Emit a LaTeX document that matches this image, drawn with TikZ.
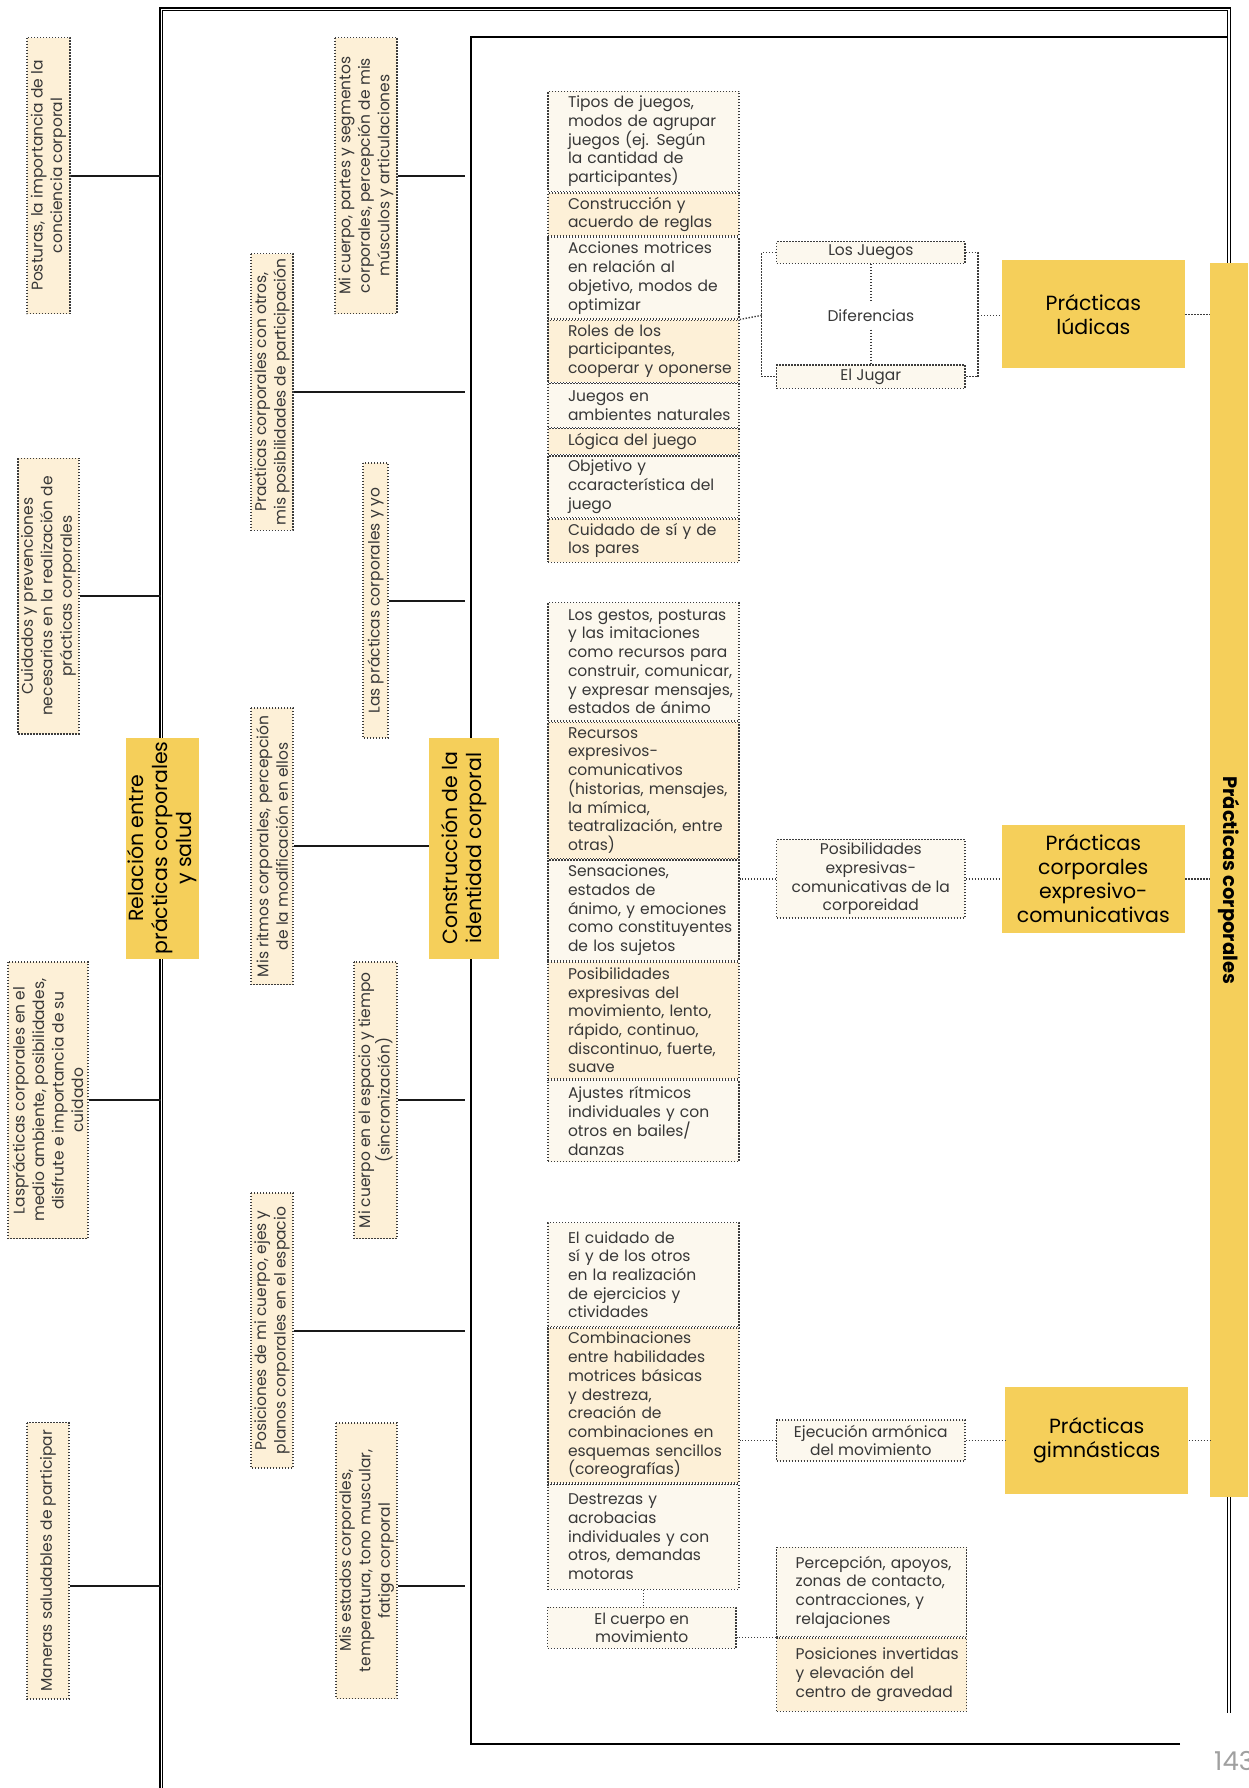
\documentclass[tikz,border=0pt]{standalone}
\usepackage{fontspec}
\usetikzlibrary{positioning}
\newfontfamily\gothic{Poppins}
\definecolor{baseYellow}{RGB}{245, 207, 90}
\definecolor{cellLight}{RGB}{252, 248, 238}
\definecolor{cellDark}{RGB}{253, 240, 215}
\definecolor{dotGray}{RGB}{60, 60, 60}
\definecolor{inkGray}{RGB}{55, 55, 55}
\definecolor{lineBlack}{RGB}{25, 25, 25}
\definecolor{pageGray}{RGB}{160, 160, 160}
\newcommand{\fntCell}{\gothic\fontsize{15.5}{18.7}\selectfont}
\newcommand{\fntSide}{\gothic\fontsize{15.5}{19.5}\selectfont}
\newcommand{\fntHead}{\gothic\fontsize{20.5}{24}\selectfont}
\newcommand{\fntBar}{\gothic\bfseries\fontsize{19.5}{24}\selectfont}
\tikzset{
    % Base Cell Style
    cellbox/.style={
        rectangle,
        draw=dotGray,
        line width=1.4pt,
        dash pattern=on 1.4pt off 1.6pt,
        inner sep=0pt,
        text=inkGray,
        font=\fntCell
    },
    % Stacked list cells (text flush left)
    listCell/.style={cellbox, minimum width=191pt, text width=191pt, align=left,
        execute at begin node={\leftskip=20pt\relax}},
    lightCell/.style={listCell, fill=cellLight},
    darkCell/.style={listCell, fill=cellDark},
    % Centred link cells
    hubCell/.style={cellbox, fill=cellLight, minimum width=188.3pt, align=center},
    % Rotated side notes
    sideNote/.style={cellbox, fill=cellDark, rotate=90, align=center, font=\fntSide},
    % Yellow headings
    topicBox/.style={rectangle, fill=baseYellow, inner sep=0pt, align=center, text=black, font=\fntHead},
    % Connector & Frame Styles
    branchLine/.style={draw=lineBlack, line width=2pt},
    dotLink/.style={draw=dotGray, line width=1.4pt, dash pattern=on 1.4pt off 1.6pt},
    frameOuter/.style={draw=black, line width=1.2pt, double=white, double distance=1.6pt},
    frameInner/.style={draw=black, line width=2pt}
}
\begin{document}
\begin{tikzpicture}[x=1pt, y=-1pt, node distance=0pt]
    \useasboundingbox (0,0) rectangle (1248,1788);

    % --- FRAMES ---
    \draw [frameOuter] (1180,1789.5) -- (161.3,1789.5) -- (161.3,9.3) -- (1229,9.3) -- (1229,1713);
    \draw [frameInner] (1180,1744.3) -- (471,1744.3) -- (471,37.3) -- (1227,37.3);
    \coordinate (frameL) at (161.3,0);
    \coordinate (innerGap) at (465,0);

    % --- LEFT COLUMN (Salud) ---
    \node (postura) [sideNote, minimum width=276pt, minimum height=43pt] at (48.5,175.5)
        {Posturas, la importancia de la\\conciencia corporal};
    \node (cuidados) [sideNote, minimum width=275.6pt, minimum height=61pt] at (48.5,596)
        {Cuidados y prevenciones\\necesarias en la realización de\\prácticas corporales};
    \node (medio) [sideNote, minimum width=276.6pt, minimum height=80pt] at (48,1100.3)
        {Lasprácticas corporales en el\\medio ambiente, posibilidades,\\disfrute e importancia de su\\cuidado};
    \node (maneras) [sideNote, minimum width=276.3pt, minimum height=42pt] at (48,1560.8)
        {Maneras saludables de participar};
    \node (relacion) [topicBox, rotate=90, minimum width=221pt, minimum height=73pt] at (162.5,848)
        {Relación entre\\prácticas corporales\\y salud};

    % --- MIDDLE COLUMNS (Identidad) ---
    \node (conotros) [sideNote, minimum width=276.5pt, minimum height=42pt] at (272,392)
        {Practicas corporales con otros,\\mis posibilidades de participación};
    \node (ritmos) [sideNote, minimum width=276.6pt, minimum height=42pt] at (272,846.3)
        {Mis ritmos corporales, percepción\\de la modificación en ellos};
    \node (posiciones) [sideNote, minimum width=275pt, minimum height=42pt] at (272,1330.5)
        {Posiciones de mi cuerpo, ejes y\\planos corporales en el espacio};
    \node (mipartes) [sideNote, minimum width=276pt, minimum height=62pt] at (366,175.5)
        {Mi cuerpo, partes y segmentos\\corporales, percepción de mis\\músculos y articulaciones};
    \node (yyo) [sideNote, minimum width=275pt, minimum height=25pt] at (375.5,600.5)
        {Las prácticas corporales y yo};
    \node (espacio) [sideNote, minimum width=276.6pt, minimum height=43pt] at (375.5,1100.3)
        {Mi cuerpo en el espacio y tiempo\\(sincronización)};
    \node (estados) [sideNote, minimum width=275.5pt, minimum height=61pt] at (366.5,1560.8)
        {Mis estados corporales,\\temperatura, tono muscular,\\fatiga corporal};
    \node (construccion) [topicBox, rotate=90, minimum width=221pt, minimum height=70pt] at (464,848)
        {Construcción de la\\identidad corporal};

    % --- STACK 1 (Juegos) ---
    \node (j1) [lightCell, anchor=north west, minimum height=100pt] at (547.3,90.7)
        {Tipos de juegos,\\modos de agrupar\\juegos (ej. Según\\la cantidad de\\participantes)};
    \node (j2) [darkCell, below=of j1, minimum height=43.3pt] {Construcción y\\acuerdo de reglas};
    \node (j3) [lightCell, below=of j2, minimum height=81.3pt] {Acciones motrices\\en relación al\\objetivo, modos de\\optimizar};
    \node (j4) [darkCell, below=of j3, minimum height=62pt] {Roles de los\\participantes,\\cooperar y oponerse};
    \node (j5) [lightCell, below=of j4, minimum height=43.7pt] {Juegos en\\ambientes naturales};
    \node (j6) [darkCell, below=of j5, minimum height=25.7pt] {Lógica del juego};
    \node (j7) [lightCell, below=of j6, minimum height=61.6pt] {Objetivo y\\ccaracterística del\\juego};
    \node (j8) [darkCell, below=of j7, minimum height=43.4pt] {Cuidado de sí y de\\los pares};

    \node (losjuegos) [hubCell, minimum height=21.6pt] at (870.8,252.5) {Los Juegos};
    \node (eljugar) [hubCell, minimum height=23.3pt] at (870.8,376.7) {El Jugar};
    \node (diferencias) [font=\fntCell, text=inkGray, inner sep=0pt, minimum height=27pt] at (870.8,316) {Diferencias};
    \node (ludicas) [topicBox, minimum width=183.3pt, minimum height=108.3pt] at (1093.3,314.2)
        {Prácticas\\lúdicas};

    % --- STACK 2 (Expresivo) ---
    \node (e1) [lightCell, anchor=north west, minimum height=118.4pt] at (547.3,601.8)
        {Los gestos, posturas\\y las imitaciones\\como recursos para\\construir, comunicar,\\y expresar mensajes,\\estados de ánimo};
    \node (e2) [darkCell, below=of e1, minimum height=136.2pt]
        {Recursos\\expresivos-\\comunicativos\\(historias, mensajes,\\la mímica,\\teatralización, entre\\otras)};
    \node (e3) [lightCell, below=of e2, minimum height=100.6pt]
        {Sensaciones,\\estados de\\ánimo, y emociones\\como constituyentes\\de los sujetos};
    \node (e4) [darkCell, below=of e3, minimum height=117pt]
        {Posibilidades\\expresivas del\\movimiento, lento,\\rápido, continuo,\\discontinuo, fuerte,\\suave};
    \node (e5) [lightCell, below=of e4, minimum height=81.3pt]
        {Ajustes rítmicos\\individuales y con\\otros en bailes/\\danzas};

    \node (posib) [hubCell, minimum height=78.3pt] at (870.8,878.9)
        {Posibilidades\\expresivas-\\comunicativas de la\\corporeidad};
    \node (expresivo) [topicBox, minimum width=183.3pt, minimum height=107.7pt] at (1093.3,878.9)
        {Prácticas\\corporales\\expresivo-\\comunicativas};

    % --- STACK 3 (Gimnasia) ---
    \node (g1) [lightCell, anchor=north west, minimum height=104pt] at (547.3,1222)
        {El cuidado de\\sí y de los otros\\en la realización\\de ejercicios y\\ctividades};
    \node (g2) [darkCell, below=of g1, minimum height=155pt]
        {Combinaciones\\entre habilidades\\motrices básicas\\y destreza,\\creación de\\combinaciones en\\esquemas sencillos\\(coreografías)};
    \node (g3) [lightCell, below=of g2, minimum height=104.7pt]
        {Destrezas y\\acrobacias\\individuales y con\\otros, demandas\\motoras};
    \node (cuerpo) [hubCell, minimum height=41pt] at (641.7,1627.8) {El cuerpo en\\movimiento};

    \node (ejecucion) [hubCell, minimum height=41pt] at (870.8,1440.5) {Ejecución armónica\\del movimiento};
    \node (percep) [lightCell, anchor=north west, minimum height=89.3pt, text width=190pt, minimum width=190pt,
        execute at begin node={\leftskip=19pt\relax}] at (776,1546.7)
        {Percepción, apoyos,\\zonas de contacto,\\contracciones, y\\relajaciones};
    \node (invertidas) [darkCell, below=of percep, minimum height=73.3pt, text width=190pt, minimum width=190pt,
        execute at begin node={\leftskip=19pt\relax}]
        {Posiciones invertidas\\y elevación del\\centro de gravedad};
    \node (gimnasticas) [topicBox, minimum width=183.3pt, minimum height=107.6pt] at (1096.7,1440.5)
        {Prácticas\\gimnásticas};

    % --- MAIN BAR ---
    \node (practicas) [topicBox, rotate=-90, minimum width=1234pt, minimum height=38pt, font=\fntBar] at (1229,880.3)
        {Prácticas corporales};

    % --- Black branches ---
    \coordinate (manerasJ) at ([yshift=-25pt]maneras.south);
    \coordinate (estadosJ) at ([yshift=-25pt]estados.south);
    \draw [branchLine] (postura.south) -- (postura.south -| frameL);
    \draw [branchLine] (cuidados.south) -- (cuidados.south -| frameL);
    \draw [branchLine] (medio.south) -- (medio.south -| frameL);
    \draw [branchLine] (manerasJ) -- (manerasJ -| frameL);
    \draw [branchLine] (mipartes.south) -- (mipartes.south -| innerGap);
    \draw [branchLine] (conotros.south) -- (conotros.south -| innerGap);
    \draw [branchLine] (yyo.south) -- (yyo.south -| innerGap);
    \draw [branchLine] (ritmos.south) -- (ritmos.south -| construccion.north);
    \draw [branchLine] (espacio.south) -- (espacio.south -| innerGap);
    \draw [branchLine] (posiciones.south) -- (posiciones.south -| innerGap);
    \draw [branchLine] (estadosJ) -- (estadosJ -| innerGap);

    % --- Dotted links ---
    \coordinate (brL) at (761.7,315.3);
    \coordinate (brR) at (978,315.3);
    \draw [dotLink] (j3.south east) -- (brL);
    \draw [dotLink] (losjuegos.west) -| (brL) |- (eljugar.west);
    \draw [dotLink] (losjuegos.east) -| (brR) |- (eljugar.east);
    \draw [dotLink] (brR) -- (brR -| ludicas.west);
    \draw [dotLink] (losjuegos.south) -- (diferencias.north);
    \draw [dotLink] (diferencias.south) -- (eljugar.north);
    \draw [dotLink] (ludicas.east) -- (ludicas.east -| practicas.south);

    \draw [dotLink] (posib.west) -- (posib.west -| e3.east);
    \draw [dotLink] (posib.east) -- (expresivo.west);
    \draw [dotLink] (expresivo.east) -- (expresivo.east -| practicas.south);

    \draw [dotLink] (ejecucion.west) -- (ejecucion.west -| g2.east);
    \draw [dotLink] (ejecucion.east) -- (ejecucion.east -| gimnasticas.west);
    \draw [dotLink] (gimnasticas.east) -- (gimnasticas.east -| practicas.south);
    \draw [dotLink] (g3.south) -- (g3.south |- cuerpo.north);
    \draw [dotLink] (percep.south west) -- (percep.south west -| cuerpo.east);

    % page number
    \node (pagina) [font=\gothic\fontsize{26}{26}\selectfont, text=pageGray, anchor=base west, inner sep=0pt] at (1214,1770.5) {143};
\end{tikzpicture}
\end{document}
